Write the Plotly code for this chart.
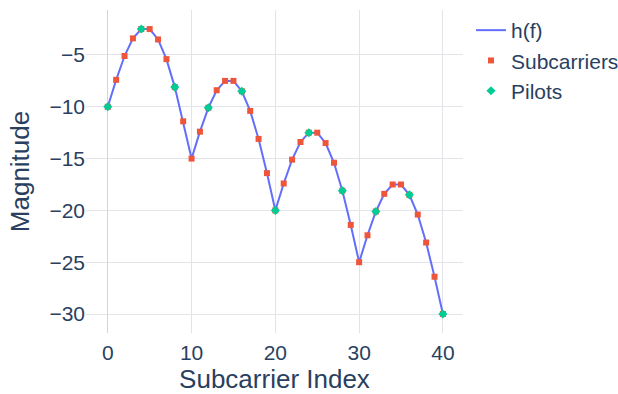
import plotly.graph_objects as go

subcarrier_index = list(range(41))
magnitude = [-10.0, -7.4, -5.1, -3.4, -2.5, -2.5, -3.5, -5.4, -8.1, -11.4,
             -15.0, -12.4, -10.1, -8.4, -7.5, -7.5, -8.5, -10.4, -13.1, -16.4,
             -20.0, -17.4, -15.1, -13.4, -12.5, -12.5, -13.5, -15.4, -18.1, -21.4,
             -25.0, -22.4, -20.1, -18.4, -17.5, -17.5, -18.5, -20.4, -23.1, -26.4,
             -30.0]
pilot_index = [0, 4, 8, 12, 16, 20, 24, 28, 32, 36, 40]
pilot_magnitude = [-10.0, -2.5, -8.1, -10.1, -8.5, -20.0, -12.5, -18.1, -20.1, -18.5, -30.0]

x_ticks = [0, 10, 20, 30, 40]
y_ticks = [-5, -10, -15, -20, -25, -30]

fig = go.Figure()
fig.add_trace(go.Scatter(x=subcarrier_index, y=magnitude, mode="lines", name="h(f)",
                         line=dict(color="#636efa", width=2)))
fig.add_trace(go.Scatter(x=subcarrier_index, y=magnitude, mode="markers", name="Subcarriers",
                         marker=dict(color="#EF553B", symbol="square", size=6)))
fig.add_trace(go.Scatter(x=pilot_index, y=pilot_magnitude, mode="markers", name="Pilots",
                         marker=dict(color="#00cc96", symbol="diamond", size=7)))

fig.update_layout(
    template="plotly_white",
    width=618, height=394,
    margin=dict(l=86, r=155, t=10, b=61, autoexpand=False),
    font=dict(family="Arial, Liberation Sans, sans-serif", size=21, color="#2a3f5f"),
    legend=dict(font=dict(size=21), xref="container", yref="container",
                x=471 / 618, y=1 - 10 / 394, xanchor="left", yanchor="top"),
)
fig.update_xaxes(title=dict(text="Subcarrier Index", font=dict(size=26), standoff=18),
                 range=[-2.6, 42.4], tickvals=x_ticks, gridcolor="#e2e4ea",
                 ticklabelstandoff=5,
                 zeroline=True, zerolinecolor="#d0d4de", zerolinewidth=1)
fig.update_yaxes(title=dict(text="Magnitude", font=dict(size=26), standoff=12),
                 range=[-31.83, -0.66], tickvals=y_ticks, gridcolor="#e2e4ea",
                 zeroline=False)
fig.write_html("out.html")
